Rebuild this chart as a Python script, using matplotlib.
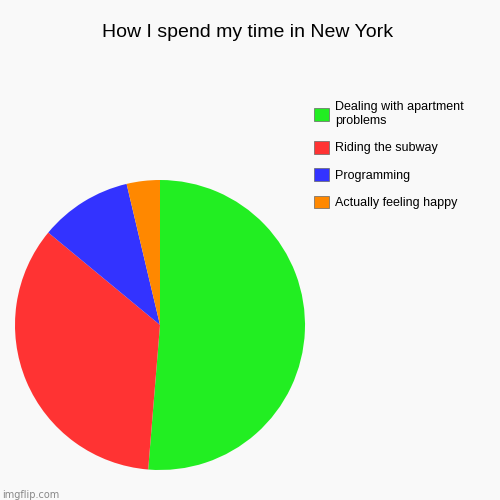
import matplotlib
matplotlib.use("Agg")
import matplotlib.pyplot as plt
from matplotlib.patches import Patch

labels = ["Dealing with apartment\nproblems", "Riding the subway", "Programming", "Actually feeling happy"]
values = [51.3, 34.7, 10.3, 3.7]
colors = ["#22ee22", "#ff3333", "#3333ff", "#ff8800"]

fig = plt.figure(figsize=(5, 5), dpi=100, facecolor="#f9f9f9")
ax = fig.add_axes([0.03, 0.06, 0.58, 0.58])
ax.pie(values, colors=colors, startangle=90, counterclock=False,
       wedgeprops=dict(linewidth=0))
ax.set_xlim(-1, 1)
ax.set_ylim(-1, 1)
ax.set_aspect("equal")
fig.text(0.495, 0.935, "How I spend my time in New York", ha="center", va="center",
         fontsize=14, family="Liberation Sans")
handles = [Patch(facecolor=c, edgecolor="#666666", linewidth=0.5) for c in colors]
fig.legend(handles, labels, loc="upper left", bbox_to_anchor=(0.605, 0.82),
           frameon=False, prop={"family": "Liberation Sans", "size": 9},
           handlelength=1.2, handleheight=1.2,
           handletextpad=0.5, labelspacing=1.1)
fig.text(0.005, 0.005, "imgflip.com", fontsize=7, color="#888888")
fig.savefig("out.png", facecolor=fig.get_facecolor())
